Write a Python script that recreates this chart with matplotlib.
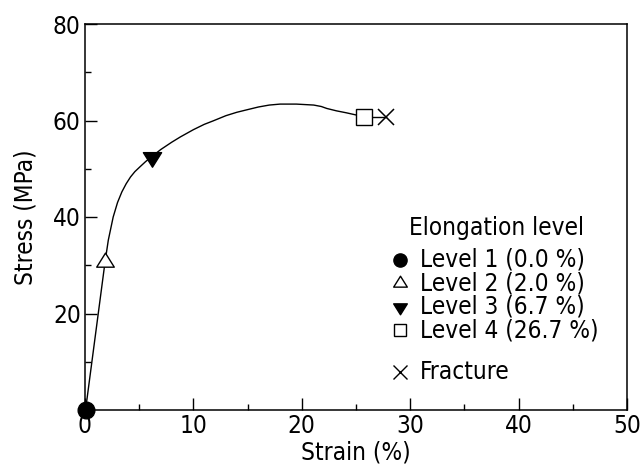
import matplotlib
matplotlib.use("Agg")
import matplotlib.pyplot as plt
from matplotlib.path import Path
import numpy as np

# stress-strain curve (strain in %, stress in MPa)
strain = [0.05, 1.85, 2.15, 2.6, 3.0, 3.4, 3.8, 4.2, 4.6, 5.07, 5.6, 6.15, 7.0, 8.0, 8.8, 10.0, 11.0,
          11.8, 13.0, 14.0, 14.9, 16.0, 17.0, 18.0, 19.5, 21.1, 21.8, 22.3, 23.2, 24.1, 25.7]
stress = [0.0, 30.7, 35.2, 40.0, 43.0, 45.2, 46.9, 48.3, 49.4, 50.4, 51.5, 52.5, 54.0, 55.5, 56.6, 58.1, 59.2,
          59.9, 61.0, 61.7, 62.2, 62.8, 63.2, 63.4, 63.4, 63.2, 62.9, 62.5, 62.0, 61.6, 60.8]

# elongation levels marked on the curve
level_strain = [0.05, 1.85, 6.15, 25.7]
level_stress = [0.0, 30.7, 52.5, 60.8]
level_labels = ["Level 1 (0.0 %)", "Level 2 (2.0 %)", "Level 3 (6.7 %)", "Level 4 (26.7 %)"]
level_filled = [True, False, True, False]

fracture_strain = 27.8
fracture_stress = 60.8

# flattened triangles
tri_up = Path([(0, 1.067), (-1, -0.533), (1, -0.533), (0, 1.067)],
              [Path.MOVETO, Path.LINETO, Path.LINETO, Path.CLOSEPOLY])
tri_dn = Path([(0, -1.067), (-1, 0.533), (1, 0.533), (0, -1.067)],
              [Path.MOVETO, Path.LINETO, Path.LINETO, Path.CLOSEPOLY])
level_markers = ["o", tri_up, tri_dn, "s"]
plot_sizes = [12, 13.5, 14, 11]
legend_sizes = [9.5, 10.5, 10.5, 9]

plt.rcParams["font.family"] = "DejaVu Sans"
plt.rcParams["font.stretch"] = "condensed"
FS = 17.5

fig = plt.figure(figsize=(6.42, 4.67), dpi=100)
ax = fig.add_axes([85 / 642, 1 - 410 / 467, 542 / 642, 386 / 467])

ax.plot(strain, stress, color="black", lw=1.0, zorder=2, clip_on=False)
ax.plot([level_strain[-1], fracture_strain], [level_stress[-1], fracture_stress],
        color="black", lw=1.0, zorder=2)

for x, y, m, f, s in zip(level_strain, level_stress, level_markers, level_filled, plot_sizes):
    ax.plot(x, y, marker=m, ms=s, mec="black", mew=1.0,
            mfc="black" if f else "white", ls="none", zorder=3, clip_on=False)
ax.plot(fracture_strain, fracture_stress, marker="x", ms=12, mew=1.1,
        color="black", ls="none", zorder=3)

ax.set_xlim(0, 50)
ax.set_ylim(0, 80)
ax.set_xticks([0, 10, 20, 30, 40, 50])
ax.set_xticks([5, 15, 25, 35, 45], minor=True)
ax.set_yticks([20, 40, 60, 80])
ax.set_yticks([10, 30, 50, 70], minor=True)
ax.tick_params(which="major", direction="in", length=8.5, width=1.0, labelsize=FS, pad=3)
ax.tick_params(which="minor", direction="in", length=4.3, width=1.0)
for sp in ax.spines.values():
    sp.set_linewidth(1.1)

ax.set_xlabel("Strain (%)", fontsize=FS, labelpad=1.5)
ax.set_ylabel("Stress (MPa)", fontsize=FS, labelpad=11)

# legend block, placed in axes fraction
mx, tx = 0.581, 0.618
row_y = [0.389, 0.328, 0.267, 0.207]
ax.text(0.598, 0.472, "Elongation level", transform=ax.transAxes, fontsize=FS,
        ha="left", va="center")
for yy, m, f, s, lab in zip(row_y, level_markers, level_filled, legend_sizes, level_labels):
    ax.plot(mx, yy, marker=m, ms=s, mec="black", mew=1.0,
            mfc="black" if f else "white", transform=ax.transAxes, clip_on=False)
    ax.text(tx, yy, lab, transform=ax.transAxes, fontsize=FS, ha="left", va="center")
ax.plot(mx, 0.098, marker="x", ms=10, mew=1.0, color="black", transform=ax.transAxes)
ax.text(tx, 0.098, "Fracture", transform=ax.transAxes, fontsize=FS, ha="left", va="center")

fig.savefig("out.png", dpi=100)
